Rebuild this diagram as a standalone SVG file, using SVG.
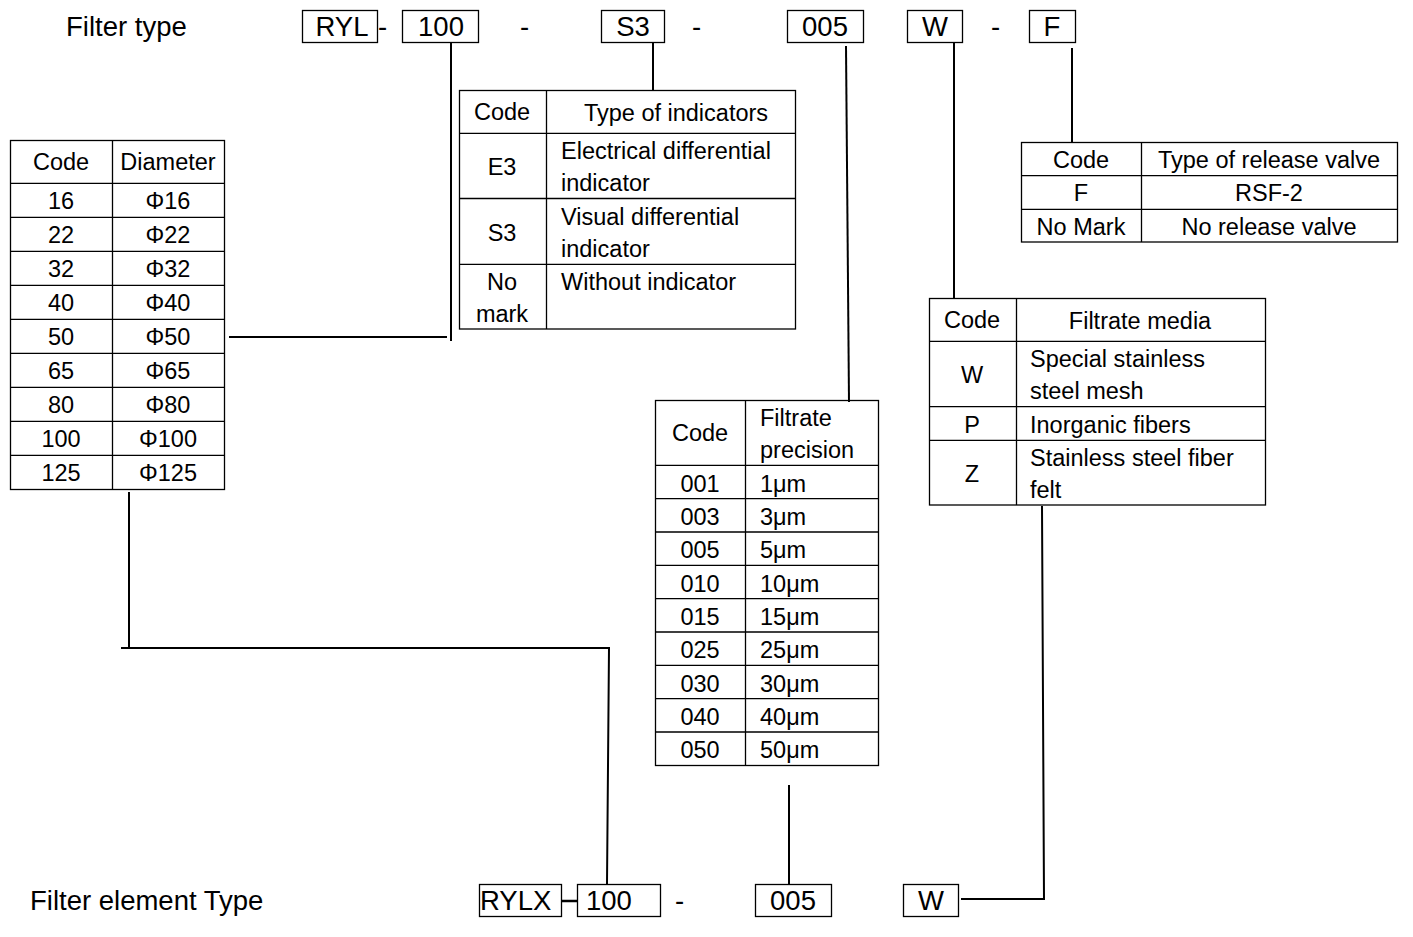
<svg xmlns="http://www.w3.org/2000/svg" width="1413" height="937" viewBox="0 0 1413 937">
<style>
text{font-family:"Liberation Sans",Arial,sans-serif;fill:#000}
.big{font-size:27.5px}
.t{font-size:23.5px}
.c{text-anchor:middle}
.box{fill:#fff;stroke:#000;stroke-width:1.3}
.grid{stroke:#000;stroke-width:1.3;fill:none}
.conn{stroke:#000;stroke-width:2;fill:none}
</style>
<rect width="1413" height="937" fill="#fff"/>

<g id="connectors">
<line class="conn" x1="451" y1="42" x2="451" y2="341"/>
<line class="conn" x1="229" y1="337" x2="447" y2="337"/>
<line class="conn" x1="653" y1="42" x2="653" y2="91"/>
<line class="conn" x1="846" y1="46" x2="849" y2="402"/>
<line class="conn" x1="954" y1="42" x2="954" y2="298"/>
<line class="conn" x1="1072" y1="48" x2="1072" y2="142"/>
<polyline class="conn" points="129,492 129,648"/>
<polyline class="conn" points="121,648 609,648 607,884"/>
<line class="conn" x1="789" y1="785" x2="789" y2="884"/>
<polyline class="conn" points="1042,506 1044,899 961,899"/>
<line class="conn" x1="561" y1="901" x2="577" y2="901" style="stroke-width:2.5"/>
</g>

<g id="filter-type">
<text class="big" x="66" y="36">Filter type</text>
<g id="top-RYL"><rect class="box" x="302.5" y="10.5" width="75" height="32"/><text class="big c" x="342" y="36">RYL</text></g>
<text class="big" x="378" y="36">-</text>
<g id="top-100"><rect class="box" x="402.5" y="10.5" width="76" height="32"/><text class="big c" x="441" y="36">100</text></g>
<text class="big" x="520" y="36">-</text>
<g id="top-S3"><rect class="box" x="601.5" y="10.5" width="63" height="32"/><text class="big c" x="633" y="36">S3</text></g>
<text class="big" x="692" y="36">-</text>
<g id="top-005"><rect class="box" x="787.5" y="10.5" width="76" height="32"/><text class="big c" x="825" y="36">005</text></g>
<g id="top-W"><rect class="box" x="907.5" y="10.5" width="55" height="32"/><text class="big c" x="935" y="36">W</text></g>
<text class="big" x="991" y="36">-</text>
<g id="top-F"><rect class="box" x="1029.5" y="10.5" width="46" height="32"/><text class="big c" x="1052" y="36">F</text></g>
</g>

<g id="diameter-table">
<rect class="grid" x="10.5" y="140.5" width="214" height="349"/>
<path class="grid" d="M112.5 140.5V489.5M10.5 183.3H224.5M10.5 217.3H224.5M10.5 251.3H224.5M10.5 285.3H224.5M10.5 319.3H224.5M10.5 353.3H224.5M10.5 387.3H224.5M10.5 421.3H224.5M10.5 455.3H224.5"/>
<g class="t c">
<text x="61" y="170">Code</text><text x="168" y="170">Diameter</text>
<text x="61" y="209">16</text><text x="168" y="209">Φ16</text>
<text x="61" y="243">22</text><text x="168" y="243">Φ22</text>
<text x="61" y="277">32</text><text x="168" y="277">Φ32</text>
<text x="61" y="311">40</text><text x="168" y="311">Φ40</text>
<text x="61" y="345">50</text><text x="168" y="345">Φ50</text>
<text x="61" y="379">65</text><text x="168" y="379">Φ65</text>
<text x="61" y="413">80</text><text x="168" y="413">Φ80</text>
<text x="61" y="447">100</text><text x="168" y="447">Φ100</text>
<text x="61" y="481">125</text><text x="168" y="481">Φ125</text>
</g>
</g>

<g id="indicator-table">
<rect class="grid" x="459.5" y="90.5" width="336" height="238.5"/>
<path class="grid" d="M546.5 90.5V329M459.5 133.3H795.5M459.5 198.5H795.5M459.5 264.3H795.5"/>
<g class="t">
<text class="c" x="502" y="120">Code</text><text class="c" x="676" y="121">Type of indicators</text>
<text class="c" x="502" y="175">E3</text>
<text x="561" y="159">Electrical differential</text><text x="561" y="191">indicator</text>
<text class="c" x="502" y="241">S3</text>
<text x="561" y="225">Visual differential</text><text x="561" y="257">indicator</text>
<text class="c" x="502" y="290">No</text><text class="c" x="502" y="322">mark</text>
<text x="561" y="290">Without indicator</text>
</g>
</g>

<g id="release-valve-table">
<rect class="grid" x="1021.5" y="142.5" width="376" height="99.5"/>
<path class="grid" d="M1141.5 142.5V242M1021.5 175.7H1397.5M1021.5 209.3H1397.5"/>
<g class="t c">
<text x="1081" y="168">Code</text><text x="1269" y="168">Type of release valve</text>
<text x="1081" y="201">F</text><text x="1269" y="201">RSF-2</text>
<text x="1081" y="235">No Mark</text><text x="1269" y="235">No release valve</text>
</g>
</g>

<g id="media-table">
<rect class="grid" x="929.5" y="298.5" width="336" height="206.5"/>
<path class="grid" d="M1016.5 298.5V505M929.5 341.3H1265.5M929.5 406.7H1265.5M929.5 440.3H1265.5"/>
<g class="t">
<text class="c" x="972" y="328">Code</text><text class="c" x="1140" y="329">Filtrate media</text>
<text class="c" x="972" y="383">W</text>
<text x="1030" y="367">Special stainless</text><text x="1030" y="399">steel mesh</text>
<text class="c" x="972" y="433">P</text><text x="1030" y="433">Inorganic fibers</text>
<text class="c" x="972" y="482">Z</text>
<text x="1030" y="466">Stainless steel fiber</text><text x="1030" y="498">felt</text>
</g>
</g>

<g id="precision-table">
<rect class="grid" x="655.5" y="400.5" width="223" height="365"/>
<path class="grid" d="M745.5 400.5V765.5M655.5 465.3H878.5M655.5 498.7H878.5M655.5 532H878.5M655.5 565.3H878.5M655.5 598.7H878.5M655.5 632H878.5M655.5 665.3H878.5M655.5 698.7H878.5M655.5 732H878.5"/>
<g class="t">
<text class="c" x="700" y="441">Code</text>
<text x="760" y="426">Filtrate</text><text x="760" y="458">precision</text>
<text class="c" x="700" y="492">001</text><text x="760" y="492">1μm</text>
<text class="c" x="700" y="525">003</text><text x="760" y="525">3μm</text>
<text class="c" x="700" y="558">005</text><text x="760" y="558">5μm</text>
<text class="c" x="700" y="592">010</text><text x="760" y="592">10μm</text>
<text class="c" x="700" y="625">015</text><text x="760" y="625">15μm</text>
<text class="c" x="700" y="658">025</text><text x="760" y="658">25μm</text>
<text class="c" x="700" y="692">030</text><text x="760" y="692">30μm</text>
<text class="c" x="700" y="725">040</text><text x="760" y="725">40μm</text>
<text class="c" x="700" y="758">050</text><text x="760" y="758">50μm</text>
</g>
</g>

<g id="filter-element-type">
<text class="big" x="30" y="910">Filter element Type</text>
<g id="bot-RYLX"><rect class="box" x="479.5" y="884.5" width="82" height="32"/><text class="big" x="480" y="910">RYLX</text></g>
<g id="bot-100"><rect class="box" x="577.5" y="884.5" width="83" height="32"/><text class="big" x="586" y="910">100</text></g>
<text class="big" x="675" y="910">-</text>
<g id="bot-005"><rect class="box" x="755.5" y="884.5" width="76" height="32"/><text class="big c" x="793" y="910">005</text></g>
<g id="bot-W"><rect class="box" x="903.5" y="884.5" width="55" height="32"/><text class="big c" x="931" y="910">W</text></g>
</g>
</svg>
